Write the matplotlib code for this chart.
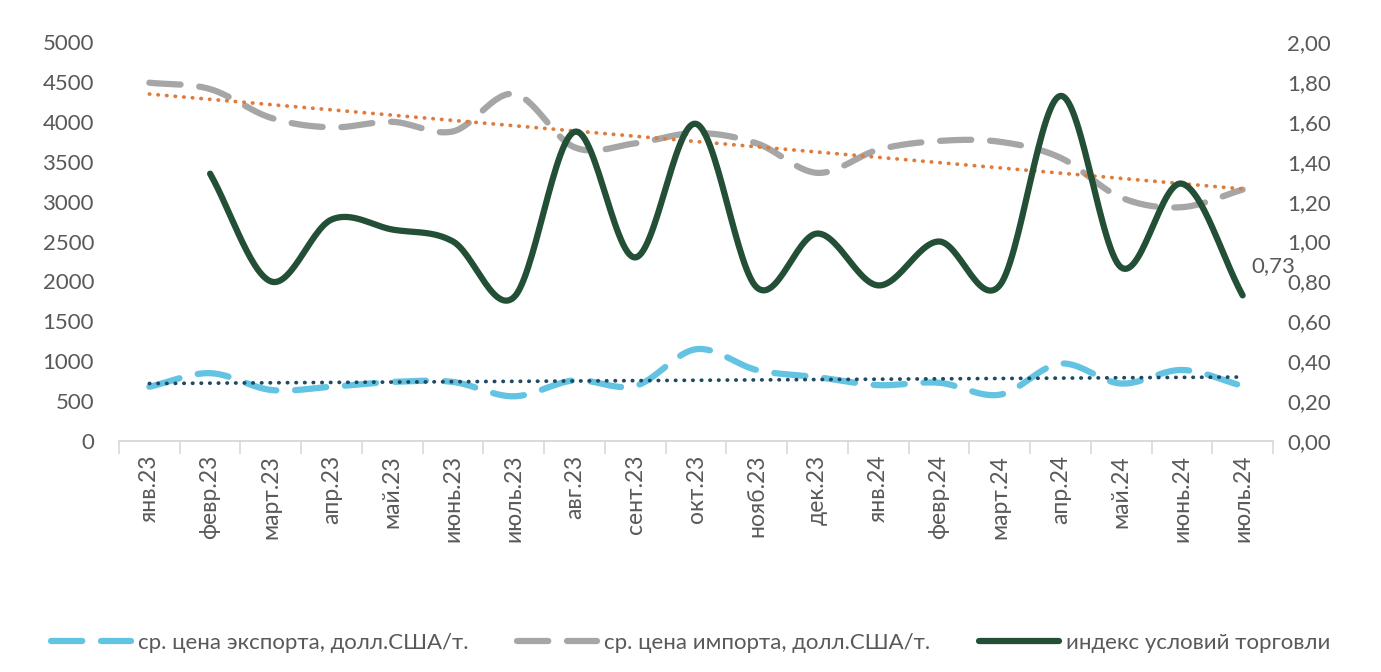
import numpy as np
import matplotlib
matplotlib.use('Agg')
from matplotlib import pyplot as plt
from matplotlib.ticker import FuncFormatter

plt.rcParams['font.family'] = ['Lato', 'DejaVu Sans']

months = ['янв.23', 'февр.23', 'март.23', 'апр.23', 'май.23', 'июнь.23', 'июль.23',
          'авг.23', 'сент.23', 'окт.23', 'нояб.23', 'дек.23', 'янв.24', 'февр.24',
          'март.24', 'апр.24', 'май.24', 'июнь.24', 'июль.24']
export_price = [680, 850, 640, 680, 740, 740, 560, 760, 690, 1150, 890, 800,
                700, 730, 580, 970, 720, 890, 690]
import_price = [4490, 4410, 4050, 3930, 4000, 3880, 4350, 3680, 3730, 3860, 3730, 3360,
                3650, 3760, 3750, 3550, 3050, 2930, 3150]
# index starts from febr.23
tot_index = [1.34, 0.80, 1.11, 1.06, 1.00, 0.72, 1.55, 0.92, 1.59, 0.77, 1.04,
             0.78, 1.00, 0.78, 1.73, 0.87, 1.29, 0.73]

GRID = '#d9d9d9'
TXT = '#595959'


def smooth(x, y, n=30):
    # catmull-rom through the points, like excel's smoothed line
    x = np.asarray(x, float)
    y = np.asarray(y, float)
    px = np.concatenate([[2 * x[0] - x[1]], x, [2 * x[-1] - x[-2]]])
    py = np.concatenate([[2 * y[0] - y[1]], y, [2 * y[-1] - y[-2]]])
    xs, ys = [], []
    t = np.linspace(0, 1, n, endpoint=False)
    for i in range(1, len(px) - 2):
        for arr, out in ((px, xs), (py, ys)):
            p0, p1, p2, p3 = arr[i - 1:i + 3]
            out.append(0.5 * (2 * p1 + (-p0 + p2) * t + (2 * p0 - 5 * p1 + 4 * p2 - p3) * t ** 2
                              + (-p0 + 3 * p1 - 3 * p2 + p3) * t ** 3))
    xs.append([x[-1]])
    ys.append([y[-1]])
    return np.concatenate(xs), np.concatenate(ys)


fig = plt.figure(figsize=(13.81, 6.72), dpi=100)
ax = fig.add_axes([119 / 1381, 1 - 441 / 672, (1273 - 119) / 1381, (441 - 42) / 672])
ax2 = ax.twinx()

x = np.arange(len(months))

sx, sy = smooth(x, export_price)
ax.plot(sx, sy, color='#63C3E2', lw=4.5, dashes=(5, 3), solid_capstyle='round',
        dash_capstyle='round', label='ср. цена экспорта, долл.США/т.')
sx, sy = smooth(x, import_price)
ax.plot(sx, sy, color='#A6A6A6', lw=4.5, dashes=(5, 3), dash_capstyle='round',
        label='ср. цена импорта, долл.США/т.')

# linear trends
k, b = np.polyfit(x, import_price, 1)
ax.plot(x, k * x + b, color='#E07B39', lw=2.7, linestyle=(0, (0.1, 2.2)),
        dash_capstyle='round')
k, b = np.polyfit(x, export_price, 1)
ax.plot(x, k * x + b, color='#1F4A63', lw=2.7, linestyle=(0, (0.1, 2.2)),
        dash_capstyle='round')

xi = x[1:]
sx, sy = smooth(xi, tot_index)
ax2.plot(sx, sy, color='#224F36', lw=4.5, solid_capstyle='round',
         label='индекс условий торговли')
ax2.annotate('0,73', (xi[-1], tot_index[-1]), xytext=(6, 14), textcoords='offset points',
             fontsize=16, color=TXT, ha='left', va='bottom')

ax.set_xlim(-0.5, len(months) - 0.5)
ax.set_ylim(0, 5000)
ax2.set_ylim(0, 2.0)
ax.set_yticks(np.arange(0, 5001, 500))
ax2.set_yticks(np.arange(0, 2.01, 0.2))
ax2.yaxis.set_major_formatter(FuncFormatter(lambda v, p: f'{v:.2f}'.replace('.', ',')))

ax.set_xticks(x)
ax.set_xticklabels(months, rotation=90, fontsize=16.5, color=TXT)
ax.set_xticks(np.arange(-0.5, len(months)), minor=True)
ax.tick_params(axis='x', which='major', length=0, pad=10)
ax.tick_params(axis='x', which='minor', length=9, color=GRID, width=1.2)
ax.tick_params(axis='y', length=0, labelsize=16, labelcolor=TXT, pad=18)
ax2.tick_params(axis='y', length=0, labelsize=16, labelcolor=TXT, pad=10)

for a in (ax, ax2):
    for s in ('top', 'left', 'right'):
        a.spines[s].set_visible(False)
    a.spines['bottom'].set_color(GRID)
    a.spines['bottom'].set_linewidth(1.2)

h1, l1 = ax.get_legend_handles_labels()
h2, l2 = ax2.get_legend_handles_labels()
fig.legend(h1 + h2, l1 + l2, loc='center', bbox_to_anchor=(0.5, 1 - 643 / 672), ncol=3,
           frameon=False, fontsize=16, labelcolor=TXT, handlelength=3.6,
           columnspacing=2.2, handletextpad=0.3)

plt.savefig('out.png', dpi=100)
